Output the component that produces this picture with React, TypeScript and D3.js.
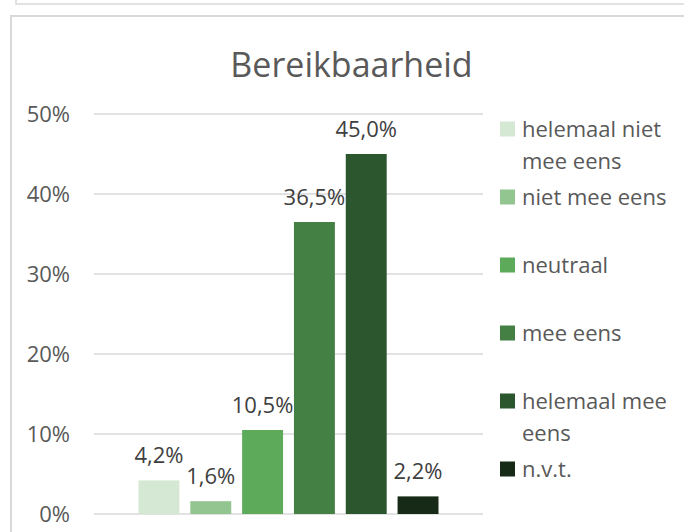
import React from "react";
import * as d3 from "d3";

const seriesNames = [
  "helemaal niet mee eens",
  "niet mee eens",
  "neutraal",
  "mee eens",
  "helemaal mee eens",
  "n.v.t.",
];
const legendLines = [
  ["helemaal niet", "mee eens"],
  ["niet mee eens"],
  ["neutraal"],
  ["mee eens"],
  ["helemaal mee", "eens"],
  ["n.v.t."],
];
const values = [0.042, 0.016, 0.105, 0.365, 0.45, 0.022];
const valueLabels = ["4,2%", "1,6%", "10,5%", "36,5%", "45,0%", "2,2%"];
const colors = ["#d5e8d4", "#93c590", "#5eaa5b", "#448044", "#2c562d", "#172a17"];
const yTicks = [0, 0.1, 0.2, 0.3, 0.4, 0.5];
const title = "Bereikbaarheid";

const W = 684;
const H = 532;
const FONT = "'Open Sans', 'Noto Sans', sans-serif";

export default function App() {
  const plotLeft = 94;
  const plotRight = 483;
  const y = d3.scaleLinear().domain([0, 0.5]).range([514, 114]);
  const center = (plotLeft + plotRight) / 2;
  const x = d3
    .scaleBand<string>()
    .domain(seriesNames)
    .range([center - 150, center + 150])
    .paddingInner(0.21)
    .paddingOuter(0);
  const fmt = d3.format(".0%");
  const fs = 22;

  return (
    <svg
      width={W}
      height={H}
      style={{ position: "absolute", left: 0, top: 0, background: "#fff" }}
      fontFamily={FONT}
    >
      {/* previous chart box (cut off) */}
      <path d={`M16,-5 V4 H${W + 5}`} fill="none" stroke="#d9d9d9" strokeWidth={1.5} />
      {/* chart box */}
      <path d={`M11,${H + 5} V16 H${W + 5}`} fill="none" stroke="#d9d9d9" strokeWidth={2} />

      <text x={351.5} y={77} textAnchor="middle" fontSize={34} fill="#595959">
        {title}
      </text>

      {yTicks.map((t) => (
        <g key={t}>
          <line
            x1={plotLeft}
            x2={plotRight}
            y1={y(t)}
            y2={y(t)}
            stroke="#d9d9d9"
            strokeWidth={1.5}
          />
          <text
            x={70}
            y={y(t) + 0.357 * fs}
            textAnchor="end"
            fontSize={fs}
            fill="#595959"
          >
            {fmt(t)}
          </text>
        </g>
      ))}

      {seriesNames.map((s, i) => {
        const bx = x(s)!;
        const bw = x.bandwidth();
        return (
          <g key={s}>
            <rect
              x={bx}
              y={y(values[i])}
              width={bw}
              height={y(0) - y(values[i])}
              fill={colors[i]}
            />
            <text
              x={bx + bw / 2}
              y={y(values[i]) - 17}
              textAnchor="middle"
              fontSize={fs}
              fill="#404040"
            >
              {valueLabels[i]}
            </text>
          </g>
        );
      })}

      {legendLines.map((lines, i) => {
        const cy = 129 + i * 68;
        return (
          <g key={i}>
            <rect x={500} y={cy - 7.5} width={15} height={15} fill={colors[i]} />
            {lines.map((ln, j) => (
              <text
                key={j}
                x={522}
                y={cy + 7.5 + j * 32}
                fontSize={fs}
                fill="#595959"
              >
                {ln}
              </text>
            ))}
          </g>
        );
      })}
    </svg>
  );
}
